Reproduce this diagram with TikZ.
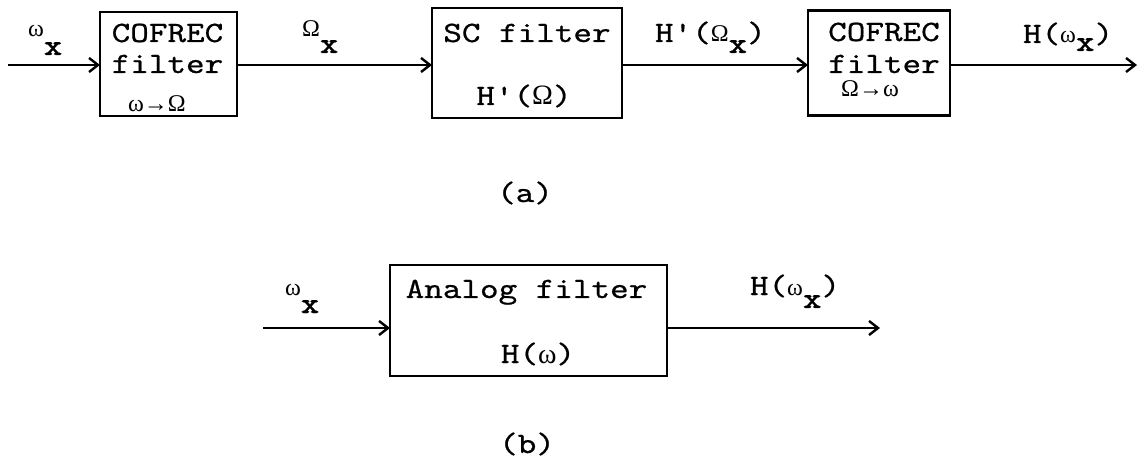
\documentclass[tikz,border=0pt]{standalone}
\usepackage{fontspec}
\setmonofont{lmmono10-regular.otf}[FakeStretch=1.2, FakeBold=0.7, BoldFont=lmmonolt10-bold.otf, BoldFeatures={FakeStretch=1.2}]
\newfontfamily\gk{Liberation Serif}
\usetikzlibrary{arrows.meta}
\newcommand\gsym[1]{{\gk\fontsize{24}{24}\selectfont #1}}
\newcommand\gbig[1]{{\gk\fontsize{28}{28}\selectfont #1}}
\newcommand\lowx[1]{\raisebox{-#1pt}{\bfseries x}}
\begin{document}
\begin{tikzpicture}[x=1pt,y=-1pt,
  every node/.style={font=\ttfamily\fontsize{29.5}{29.5}\selectfont, inner sep=0pt, outer sep=0pt},
  box/.style={draw, rectangle, line width=2.4pt, inner sep=0pt},
  conn/.style={line width=2.4pt, -{Straight Barb[length=9pt,width=14pt]}},
  txt/.style={anchor=base},
  lbl/.style={anchor=base west}]
\useasboundingbox (0,0) rectangle (1144,465);
% boxes
\node[box, minimum width=137pt, minimum height=104pt] (f1) at (168.5,64) {};
\node[box, minimum width=190pt, minimum height=110pt] (f2) at (527,63) {};
\node[box, minimum width=142pt, minimum height=105pt] (f3) at (879,63) {};
\node[box, minimum width=277pt, minimum height=111pt] (fb) at (528.5,320.5) {};
% box texts
\node[txt] (t1a) at (167.5,42) {COFREC};
\node[txt] (t1b) at (167.5,73) {filter};
\node[txt] (t1c) at (157,112) {\gsym{ω→Ω}};
\node[txt] (t2a) at (527,42) {SC filter};
\node[txt] (t2b) at (524,105) {H'(\gbig{Ω})};
\node[txt] (t3a) at (884,41) {COFREC};
\node[txt] (t3b) at (884,73) {filter};
\node[txt] (t3c) at (870,97) {\gsym{Ω→ω}};
\node[txt] (tba) at (526.5,298) {Analog filter};
\node[txt] (tbb) at (538,363) {H(\gbig{ω})};
% captions
\node[txt] (capa) at (525,202) {(a)};
\node[txt] (capb) at (527,453) {(b)};
% connectors row a
\coordinate (ina) at (8,65);
\coordinate (outa) at (1137,65);
\draw[conn] (ina) -- (ina -| f1.west);
\draw[conn] (ina -| f1.east) -- (ina -| f2.west);
\draw[conn] (ina -| f2.east) -- (ina -| f3.west);
\draw[conn] (ina -| f3.east) -- (outa);
% connectors row b
\coordinate (inb) at (263,328);
\coordinate (outb) at (880,328);
\draw[conn] (inb) -- (inb -| fb.west);
\draw[conn] (inb -| fb.east) -- (outb);
% signal labels
\node[lbl] (l1) at (28,37) {\gsym{ω}\lowx{18}};
\node[lbl] (l2) at (302,37) {\gsym{Ω}\lowx{16}};
\node[lbl] (l3) at (655,42) {H'(\gsym{Ω}\lowx{11})};
\node[lbl] (l4) at (1023,43) {H(\gsym{ω}\lowx{8})};
\node[lbl] (l5) at (285,295) {\gsym{ω}\lowx{18}};
\node[lbl] (l6) at (750,295) {H(\gsym{ω}\lowx{13})};
\end{tikzpicture}
\end{document}
